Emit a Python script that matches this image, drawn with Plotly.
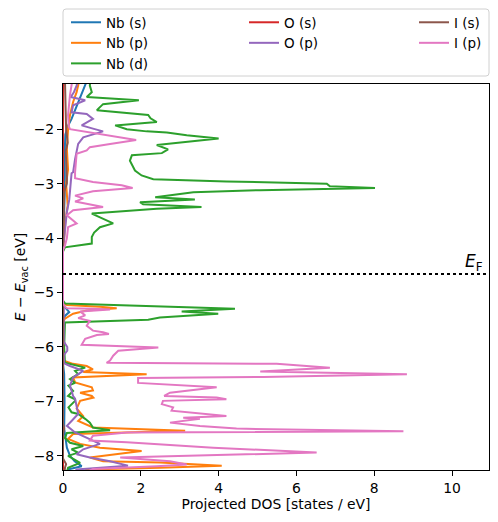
import plotly.graph_objects as go

# ---------------- data ----------------
E_FERMI = -4.66

energy_nb_s = [-1.10, -1.19, -1.30, -1.50, -1.70, -1.81, -1.95, -2.10, -2.50, -3.06, -3.50, -4.10, -4.20,
               -5.20, -5.27, -5.36, -5.43, -5.55, -6.30, -6.50, -7.00, -7.50, -7.70, -7.85, -8.00, -8.10,
               -8.19, -8.25, -8.30]
dos_nb_s = [0.62, 0.57, 0.50, 0.38, 0.27, 0.22, 0.12, 0.06, 0.04, 0.05, 0.03, 0.01, 0.0,
            0.0, 0.05, 0.16, 0.05, 0.0, 0.0, 0.03, 0.04, 0.03, 0.08, 0.10, 0.18, 0.30,
            0.48, 0.13, 0.10]

energy_nb_p = [-1.10, -1.19, -1.32, -1.50, -1.74, -2.00, -2.37, -2.74, -3.00, -3.40, -3.70, -4.10, -4.20,
               -5.20, -5.23, -5.26, -5.29, -5.33, -5.39, -5.48, -5.55, -6.25, -6.31, -6.35, -6.41, -6.46,
               -6.50, -6.56, -6.65, -6.74, -6.80, -6.84, -6.90, -6.93, -6.99, -7.13, -7.27, -7.36, -7.48,
               -7.54, -7.60, -7.69, -7.78, -7.85, -7.87, -7.91, -8.03, -8.10, -8.12, -8.18, -8.22, -8.25,
               -8.30]
dos_nb_p = [0.42, 0.39, 0.35, 0.26, 0.18, 0.13, 0.10, 0.13, 0.08, 0.12, 0.06, 0.02, 0.0,
            0.0, 0.10, 0.95, 1.38, 0.61, 0.26, 0.05, 0.0, 0.0, 0.26, 0.61, 0.77, 0.52,
            2.15, 0.26, 0.31, 0.74, 0.77, 0.44, 0.74, 0.78, 0.44, 0.35, 0.52, 0.39, 0.77,
            3.14, 0.26, 0.13, 0.44, 0.95, 1.34, 2.02, 0.69, 1.03, 2.49, 4.08, 2.49, 0.61,
            0.50]

energy_nb_d = [-1.10, -1.20, -1.32, -1.41, -1.47, -1.54, -1.65, -1.74, -1.80, -1.87, -1.93, -2.00, -2.04,
               -2.06, -2.11, -2.17, -2.29, -2.37, -2.44, -2.48, -2.58, -2.66, -2.76, -2.85, -2.92, -2.96,
               -3.00, -3.05, -3.08, -3.12, -3.16, -3.25, -3.29, -3.34, -3.38, -3.43, -3.46, -3.55, -3.71,
               -3.73, -3.80, -3.90, -3.98, -4.10, -4.17, -4.25,
               -5.15, -5.20, -5.27, -5.30, -5.35, -5.39, -5.46, -5.50, -5.55, -5.75, -6.00, -6.29, -6.35,
               -6.38, -6.44, -6.50, -6.59, -6.66, -6.71, -6.81, -6.90, -6.96, -6.99, -7.11, -7.20, -7.23,
               -7.32, -7.39, -7.48, -7.53, -7.58, -7.67, -7.76, -7.82, -7.88, -7.94, -8.00, -8.06, -8.13,
               -8.22, -8.30]
dos_nb_d = [0.70, 0.69, 0.74, 0.61, 1.95, 1.03, 0.87, 2.19, 2.25, 2.41, 1.34, 1.64, 2.15,
            2.67, 3.18, 4.00, 2.41, 2.70, 2.54, 1.77, 1.72, 1.77, 1.85, 2.02, 2.32, 4.20,
            6.78, 6.86, 8.02, 5.06, 3.35, 2.37, 3.39, 1.98, 2.06, 3.56, 2.41, 0.74, 1.21,
            1.29, 0.95, 0.80, 0.74, 0.74, 0.05, 0.0,
            0.0, 0.05, 3.18, 4.42, 3.05, 3.99, 2.49, 2.19, 0.05, 0.04, 0.03, 0.05, 0.44,
            0.57, 0.31, 0.39, 0.18, 0.31, 0.14, 0.26, 0.13, 0.31, 0.31, 0.14, 0.22, 0.39,
            0.57, 0.69, 0.77, 1.21, 0.10, 0.05, 0.18, 0.52, 0.22, 0.39, 0.13, 0.26, 0.44,
            0.13, 0.10]

energy_o_s = [-1.10, -8.30]
dos_o_s = [0.0, 0.0]

energy_o_p = [-1.10, -1.20, -1.32, -1.41, -1.47, -1.56, -1.69, -1.72, -1.81, -1.93, -1.99, -2.04, -2.15,
              -2.27, -2.55, -2.79, -2.81, -3.10, -3.30, -3.52, -3.89, -4.15, -4.20,
              -5.20, -5.30, -5.90, -6.00, -6.07, -6.15, -6.30, -6.35, -6.44, -6.56, -6.71, -6.90, -6.95,
              -7.08, -7.23, -7.36, -7.45, -7.57, -7.73, -7.78, -7.88, -7.97, -8.03, -8.10, -8.18, -8.22,
              -8.25, -8.30]
dos_o_p = [0.38, 0.35, 0.28, 0.20, 0.57, 0.26, 0.22, 0.61, 0.77, 0.48, 0.77, 1.03, 0.52,
           0.39, 0.31, 0.26, 0.22, 0.18, 0.16, 0.10, 0.05, 0.01, 0.0,
           0.0, 0.02, 0.02, 0.11, 0.11, 0.02, 0.03, 0.18, 0.52, 0.26, 0.18, 0.26, 0.31,
           0.35, 0.39, 0.22, 0.10, 0.31, 0.77, 0.95, 0.52, 0.35, 0.69, 1.21, 1.67, 0.86,
           0.35, 0.30]

energy_i_s = [-1.10, -1.50, -2.00, -2.25, -2.40, -2.90, -3.00, -3.15, -3.50, -4.20,
              -5.20, -7.40, -7.50, -7.60, -8.05, -8.15, -8.22, -8.30]
dos_i_s = [0.05, 0.06, 0.08, 0.12, 0.07, 0.10, 0.10, 0.03, 0.02, 0.0,
           0.0, 0.0, 0.03, 0.0, 0.0, 0.08, 0.05, 0.04]

energy_i_p = [-1.10, -1.19, -1.37, -1.74, -1.95, -2.00, -2.09, -2.15, -2.20, -2.27, -2.33, -2.39, -2.45,
              -2.79, -2.90, -2.97, -3.03, -3.08, -3.14, -3.22, -3.27, -3.33, -3.43, -3.49, -3.58, -3.73,
              -3.80, -4.00, -4.14, -4.22,
              -5.20, -5.26, -5.29, -5.30, -5.31, -5.35, -5.42, -5.47, -5.52, -5.61, -5.70, -5.73, -5.76,
              -5.78, -5.85, -5.96, -5.99, -6.01, -6.07, -6.16, -6.25, -6.29, -6.31, -6.38, -6.45, -6.50,
              -6.55, -6.57, -6.66, -6.70, -6.74, -6.84, -6.90, -6.93, -6.96, -6.99, -7.05, -7.11, -7.17,
              -7.27, -7.30, -7.32, -7.39, -7.45, -7.50, -7.55, -7.57, -7.63, -7.72, -7.75, -7.85, -7.94,
              -8.03, -8.10, -8.16, -8.19, -8.24, -8.30]
dos_i_p = [0.24, 0.22, 0.18, 0.13, 0.15, 0.18, 0.95, 1.54, 1.88, 1.21, 0.69, 0.61, 0.35,
           0.31, 0.31, 0.77, 1.51, 1.79, 0.77, 0.31, 0.52, 0.31, 1.03, 0.26, 0.10, 0.35,
           0.13, 0.10, 0.05, 0.0,
           0.0, 0.05, 0.10, 0.77, 1.21, 0.44, 0.57, 0.39, 0.69, 0.61, 0.77, 1.03, 1.18,
           0.87, 0.57, 0.48, 1.64, 2.45, 1.42, 1.29, 1.21, 1.12, 5.49, 6.86, 5.07, 8.84,
           5.15, 1.93, 1.93, 3.00, 3.95, 2.75, 2.60, 3.95, 4.20, 2.57, 2.54, 2.83, 2.79,
           4.20, 3.09, 3.52, 2.75, 3.52, 4.46, 8.75, 1.64, 0.77, 0.69, 1.64, 3.86, 6.52,
           1.47, 2.75, 3.18, 2.41, 0.77, 0.60]

series_names = ["Nb (s)", "Nb (p)", "Nb (d)", "O (s)", "O (p)", "I (s)", "I (p)"]
series_energy = [energy_nb_s, energy_nb_p, energy_nb_d, energy_o_s, energy_o_p, energy_i_s, energy_i_p]
series_dos = [dos_nb_s, dos_nb_p, dos_nb_d, dos_o_s, dos_o_p, dos_i_s, dos_i_p]
series_legend = ["legend", "legend", "legend", "legend2", "legend2", "legend3", "legend3"]

x_ticks = [0, 2, 4, 6, 8, 10]
y_ticks = [-8, -7, -6, -5, -4, -3, -2]

# ---------------- styling / layout ----------------
colors = ["#1f77b4", "#ff7f0e", "#2ca02c", "#d62728", "#9467bd", "#8c564b", "#e377c2"]
FONT = "DejaVu Sans"
PAGE_OFFSET = 8          # browser default body margin
WIN_W, WIN_H = 498, 522
W, H = WIN_W - PAGE_OFFSET, WIN_H - PAGE_OFFSET
# plot area in window pixels: left 63, right 489, top 84, bottom 470
ML = 63 - PAGE_OFFSET
MT = 84 - PAGE_OFFSET
MR = (WIN_W - PAGE_OFFSET) - (489 - PAGE_OFFSET)
MB = (WIN_H - PAGE_OFFSET) - (470 - PAGE_OFFSET)
PW, PH = W - ML - MR, H - MT - MB


def px_to_paper_x(px):
    return (px - 63) / PW


def px_to_paper_y(py):
    return 1 + (84 - py) / PH


fig = go.Figure()
for name, en, dos, col, lg in zip(series_names, series_energy, series_dos, colors, series_legend):
    fig.add_trace(go.Scatter(x=dos, y=en, mode="lines", name=name,
                             line=dict(color=col, width=2), legend=lg))

legend_common = dict(orientation="v", bgcolor="rgba(0,0,0,0)", borderwidth=0,
                     font=dict(family=FONT, size=13.5, color="black"),
                     xanchor="left", yanchor="top", itemwidth=30)

# rounded legend frame
x0, x1 = 0.0, 1.0
y0, y1 = px_to_paper_y(76), px_to_paper_y(9)
rx, ry = 3 / PW, 3 / PH
frame_path = (f"M{x0 + rx},{y1} L{x1 - rx},{y1} Q{x1},{y1} {x1},{y1 - ry} "
              f"L{x1},{y0 + ry} Q{x1},{y0} {x1 - rx},{y0} L{x0 + rx},{y0} "
              f"Q{x0},{y0} {x0},{y0 + ry} L{x0},{y1 - ry} Q{x0},{y1} {x0 + rx},{y1} Z")

fig.update_layout(
    width=W, height=H,
    margin=dict(l=ML, r=MR, t=MT, b=MB, autoexpand=False),
    paper_bgcolor="white", plot_bgcolor="white",
    font=dict(family=FONT, size=13.9, color="black"),
    legend=dict(legend_common, x=px_to_paper_x(66), y=px_to_paper_y(7)),
    legend2=dict(legend_common, x=px_to_paper_x(244), y=px_to_paper_y(7)),
    legend3=dict(legend_common, x=px_to_paper_x(414), y=px_to_paper_y(7)),
    xaxis=dict(range=[0, 10.95], tickvals=x_ticks, showgrid=False, zeroline=False,
               showline=True, linecolor="black", linewidth=1.1, mirror=True,
               ticks="outside", ticklen=5, tickwidth=1.1, tickcolor="black",
               title=dict(text="Projected DOS [states / eV]", standoff=0,
                          font=dict(family=FONT, size=13.9))),
    yaxis=dict(range=[-8.26, -1.17], tickvals=y_ticks, showgrid=False, zeroline=False,
               showline=True, linecolor="black", linewidth=1.1, mirror=True,
               ticks="outside", ticklen=5, tickwidth=1.1, tickcolor="black",
               title=dict(text="<i>E</i> − <i>E</i><sub>vac</sub> [eV]", standoff=4,
                          font=dict(family=FONT, size=13.9))),
    shapes=[
        dict(type="line", xref="paper", yref="y", x0=0, x1=1, y0=E_FERMI, y1=E_FERMI,
             line=dict(color="black", width=2, dash="dot")),
        dict(type="path", xref="paper", yref="paper", path=frame_path,
             line=dict(color="#d0d0d0", width=1), fillcolor="rgba(255,255,255,0.8)", layer="below"),
    ],
    annotations=[
        dict(text="<i>E</i><sub>F</sub>", xref="paper", yref="y", x=px_to_paper_x(485), y=E_FERMI,
             xanchor="right", yanchor="bottom", showarrow=False, yshift=-2,
             font=dict(family=FONT, size=17, color="black")),
    ],
)

fig.write_html("out.html")
